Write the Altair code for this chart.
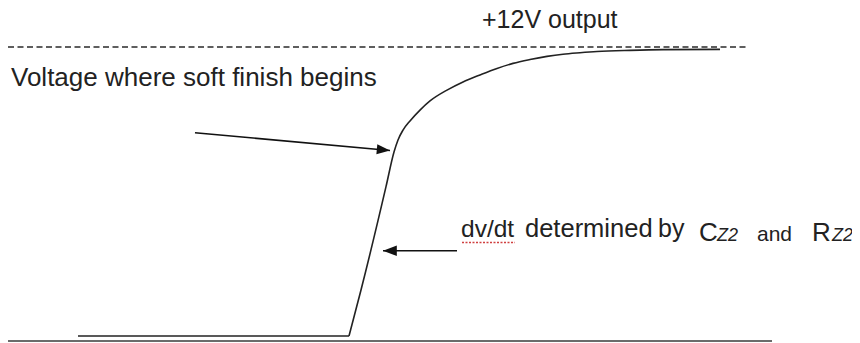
import altair as alt
import pandas as pd

# ---- data (time in arbitrary units, output voltage in volts) ----
flat_t = [78, 349]
flat_v = [0.0, 0.0]

curve_t = [349, 361, 386, 394, 398, 403, 410, 420, 430, 447, 463, 480, 497, 513, 530, 547, 563, 580,
           597, 630, 663, 720]
curve_v = [0.0, 1.91, 6.20, 7.64, 8.14, 8.55, 8.93, 9.38, 9.76, 10.21, 10.55, 10.84, 11.11, 11.32,
           11.48, 11.61, 11.70, 11.76, 11.81, 11.86, 11.89, 11.90]

target_t = [8, 747]
target_v = [12.0, 12.0]

base_t = [8, 772]
base_v = [-0.21, -0.21]

label_text = ["+12V output", "Voltage where soft finish begins", "dv/dt", "determined", "by",
              "C", "and", "R"]
label_t = [482, 11, 461, 525, 658, 699, 757, 812]
label_v = [12.80, 10.36, 4.09, 4.09, 4.09, 3.945, 3.945, 3.945]
label_size = [25, 26, 24.5, 25.5, 25, 26, 21, 26]

sub_text = ["Z2", "Z2"]
sub_t = [717, 832]
sub_v = [3.945, 3.945]

arrow_t = [195, 457]
arrow_v = [8.44, 3.54]
arrow_tip_t = [390, 383]
arrow_tip_v = [7.70, 3.54]
arrow_angle = [5.4, 180]
arrow_size = [175, 190]

squiggle_t = [462, 515]
squiggle_v = [3.88, 3.88]

# ---- scales ----
X_DOM = [8, 852]
Y_DOM = [-0.2907, 13.619]
W, H = 844, 335


def xs(field="t"):
    return alt.X(f"{field}:Q", scale=alt.Scale(domain=X_DOM, nice=False, zero=False), axis=None)


def ys(field="v"):
    return alt.Y(f"{field}:Q", scale=alt.Scale(domain=Y_DOM, nice=False, zero=False), axis=None)


flat_df = pd.DataFrame({"t": flat_t, "v": flat_v})
curve_df = pd.DataFrame({"t": curve_t, "v": curve_v})
target_df = pd.DataFrame({"t": target_t, "v": target_v})
base_df = pd.DataFrame({"t": base_t, "v": base_v})
label_df = pd.DataFrame({"t": label_t, "v": label_v, "label": label_text, "fs": label_size})
sub_df = pd.DataFrame({"t": sub_t, "v": sub_v, "label": sub_text})
arrow_df = pd.DataFrame({"t": arrow_t, "v": arrow_v, "t2": arrow_tip_t, "v2": arrow_tip_v,
                         "ang": arrow_angle, "sz": arrow_size})
squig_df = pd.DataFrame({"t": [squiggle_t[0]], "t2": [squiggle_t[1]], "v": [squiggle_v[0]]})

flat = alt.Chart(flat_df).mark_line(color="#222222", strokeWidth=1.6).encode(x=xs(), y=ys())
curve = alt.Chart(curve_df).mark_line(color="#222222", strokeWidth=1.6, interpolate="monotone").encode(
    x=xs(), y=ys())

target = alt.Chart(target_df).mark_line(color="#2a2a2a", strokeWidth=1.4, strokeDash=[6, 3.5]).encode(
    x=xs(), y=ys())
base = alt.Chart(base_df).mark_line(color="#3a3a3a", strokeWidth=1.6).encode(x=xs(), y=ys())

labels = alt.Chart(label_df).mark_text(align="left", baseline="alphabetic", font="Liberation Sans",
                                       color="#222222").encode(
    x=xs(), y=ys(), text="label:N", size=alt.Size("fs:Q", scale=None))

subs = alt.Chart(sub_df).mark_text(align="left", baseline="alphabetic", font="Liberation Sans",
                                   fontStyle="italic", fontSize=18, color="#222222").encode(
    x=xs(), y=ys(), text="label:N")

arrow_lines = alt.Chart(arrow_df).mark_rule(color="#111111", strokeWidth=1.6).encode(
    x=xs(), y=ys(), x2="t2:Q", y2="v2:Q")

arrow_heads = alt.Chart(arrow_df).mark_point(
    shape="M0,0L-2,-0.75L-2,0.75Z", filled=True, opacity=1, color="#111111", strokeWidth=0).encode(
    x=xs("t2"), y=ys("v2"), angle=alt.Angle("ang:Q", scale=None), size=alt.Size("sz:Q", scale=None))

squiggle = alt.Chart(squig_df).mark_rule(color="#d04040", strokeWidth=1.5, strokeDash=[2, 1.5]).encode(
    x=xs(), x2="t2:Q", y=ys())

chart = alt.layer(
    target, base, flat, curve, arrow_lines, arrow_heads, squiggle, labels, subs
).properties(
    width=W, height=H, padding=0, autosize=alt.AutoSizeParams(type="none"), background="white"
).configure_view(stroke=None)

chart.save("out.html", embed_options={"renderer": "svg", "actions": False})
